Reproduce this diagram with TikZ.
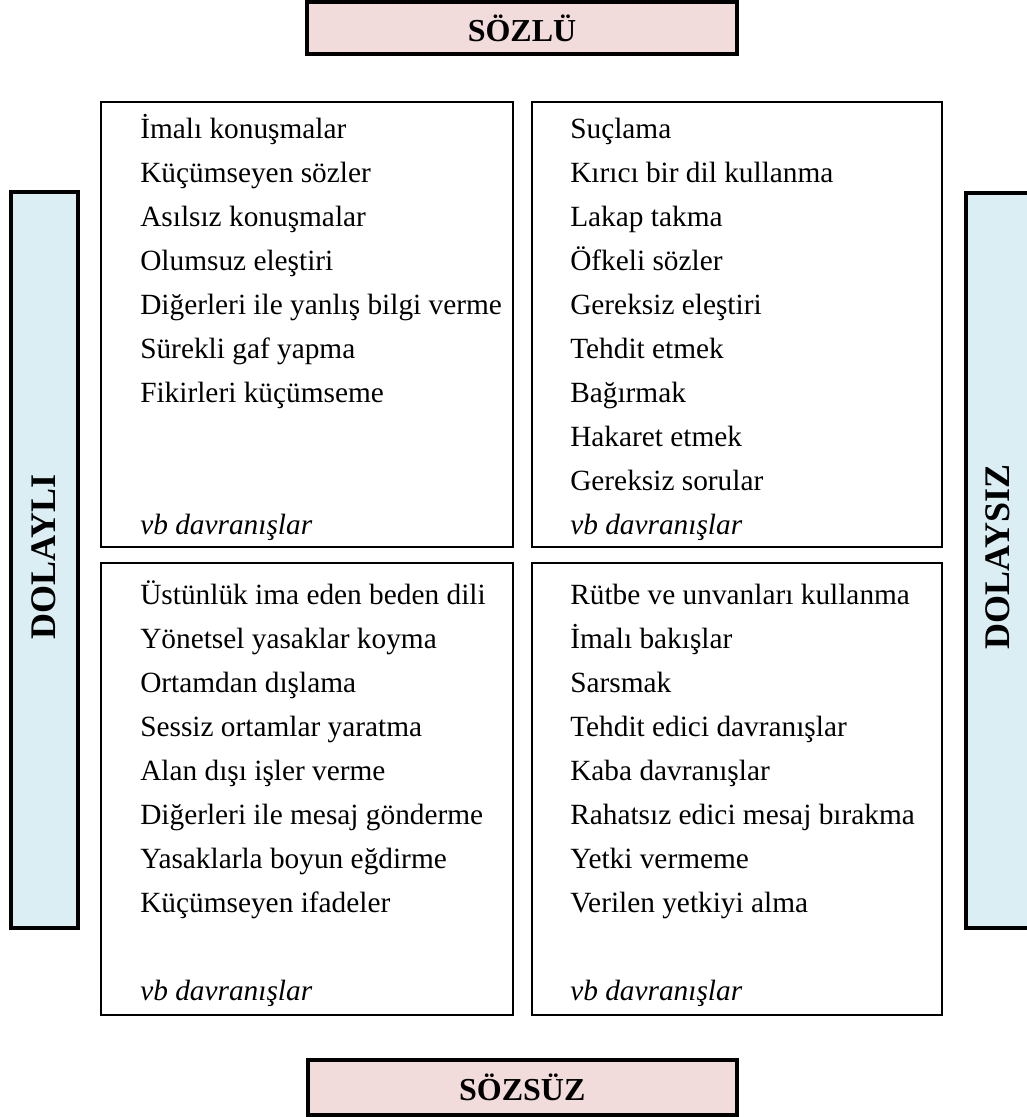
\documentclass[tikz,border=0pt]{standalone}
\usepackage{fontspec}
\setmainfont{Liberation Serif}
\definecolor{pinkc}{RGB}{242,220,219}
\definecolor{bluec}{RGB}{218,238,243}
\begin{document}
\begin{tikzpicture}[x=0.75pt,y=-0.75pt,
  cell/.style={draw=black, line width=1.5pt, anchor=north west, inner sep=0pt, outer sep=0pt},
  headbox/.style={draw=black, line width=3pt, fill=pinkc, anchor=north west, inner sep=0pt, outer sep=0pt},
  sidebox/.style={draw=black, line width=3pt, fill=bluec, anchor=north west, inner sep=0pt, outer sep=0pt},
  item/.style={anchor=base west, inner sep=0pt, font=\fontsize{22}{26}\selectfont},
  vbitem/.style={item, font=\fontsize{22}{26}\selectfont\itshape},
  headtext/.style={font=\fontsize{24}{28}\selectfont\bfseries, inner sep=0pt},
  sidetext/.style={font=\fontsize{27}{30}\selectfont\bfseries, inner sep=0pt, rotate=90}]
\useasboundingbox (0,0) rectangle (1027,1117);
\clip (0,0) rectangle (1027,1117);
% header / footer boxes
\node[headbox, minimum width=322.5pt, minimum height=39pt] (top) at (307,2) {};
\node[headtext] (toptext) at (top.center) {SÖZLÜ};
\node[headbox, minimum width=322.1pt, minimum height=41.25pt] (bot) at (307.5,1060) {};
\node[headtext] (bottext) at (bot.center) {SÖZSÜZ};
% side boxes
\node[sidebox, minimum width=50.25pt, minimum height=552pt] (lb) at (10.5,191.5) {};
\node[sidetext] (lbtext) at (44,557) {DOLAYLI};
\node[sidebox, minimum width=52.5pt, minimum height=551.6pt] (rb) at (965.5,192.5) {};
\node[sidetext] (rbtext) at (998,557) {DOLAYSIZ};
% grid cells
\node[cell, minimum width=309pt, minimum height=333.75pt] (tl) at (101,102) {};
\node[cell, minimum width=307.5pt, minimum height=333.75pt] (tr) at (532,102) {};
\node[cell, minimum width=309pt, minimum height=339pt] (bl) at (101,563) {};
\node[cell, minimum width=307.5pt, minimum height=339pt] (br) at (532,563) {};
% items
\foreach \t [count=\i from 0] in {İmalı konuşmalar, Küçümseyen sözler, Asılsız konuşmalar, Olumsuz eleştiri, Diğerleri ile yanlış bilgi verme, Sürekli gaf yapma, Fikirleri küçümseme}
  \node[item] (tl\i) at (140,138+44*\i) {\t};
\node[vbitem] (tlvb) at (140,534) {vb davranışlar};
\foreach \t [count=\i from 0] in {Suçlama, Kırıcı bir dil kullanma, Lakap takma, Öfkeli sözler, Gereksiz eleştiri, Tehdit etmek, Bağırmak, Hakaret etmek, Gereksiz sorular}
  \node[item] (tr\i) at (570,138+44*\i) {\t};
\node[vbitem] (trvb) at (570,534) {vb davranışlar};
\foreach \t [count=\i from 0] in {Üstünlük ima eden beden dili, Yönetsel yasaklar koyma, Ortamdan dışlama, Sessiz ortamlar yaratma, Alan dışı işler verme, Diğerleri ile mesaj gönderme, Yasaklarla boyun eğdirme, Küçümseyen ifadeler}
  \node[item] (bl\i) at (140,604+44*\i) {\t};
\node[vbitem] (blvb) at (140,1000) {vb davranışlar};
\foreach \t [count=\i from 0] in {Rütbe ve unvanları kullanma, İmalı bakışlar, Sarsmak, Tehdit edici davranışlar, Kaba davranışlar, Rahatsız edici mesaj bırakma, Yetki vermeme, Verilen yetkiyi alma}
  \node[item] (br\i) at (570,604+44*\i) {\t};
\node[vbitem] (brvb) at (570,1000) {vb davranışlar};
\end{tikzpicture}
\end{document}
